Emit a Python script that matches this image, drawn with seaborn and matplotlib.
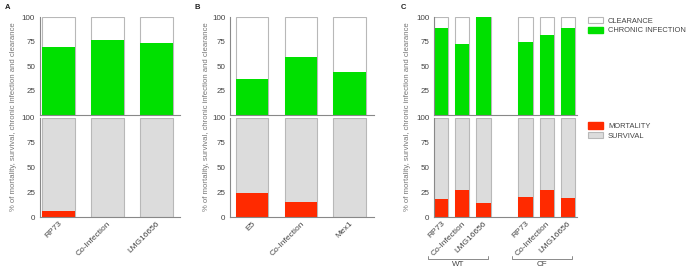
import pandas as pd
import seaborn as sns
import matplotlib.pyplot as plt
from matplotlib.patches import Patch

# panel A
strains_a = ['RP73', 'Co-Infection', 'LMG16656']
chronic_a = [69, 77, 73]
mortality_a = [6, 0, 0]

# panel B
strains_b = ['E5', 'Co-Infection', 'Mex1']
chronic_b = [37, 59, 44]
mortality_b = [24, 15, 0]

# panel C (WT and CF hosts)
strains_c = ['RP73', 'Co-Infection', 'LMG16656']
hosts_c = ['WT', 'CF']
chronic_c = {'WT': [89, 72, 100], 'CF': [75, 82, 89]}
mortality_c = {'WT': [18, 27, 14], 'CF': [20, 27, 19]}

GREEN = '#00e000'
RED = '#ff2a00'
GREY = '#dcdcdc'
EDGE = '#b8b8b8'
TXT = '#444444'


def draw_panel(ax_top, ax_bot, df, order, labels):
    full = df.assign(total=100)
    kw = dict(order=order, width=0.67, errorbar=None, saturation=1)
    sns.barplot(data=full, x='key', y='total', color='white', edgecolor=EDGE,
                linewidth=0.8, ax=ax_top, **kw)
    sns.barplot(data=df, x='key', y='chronic', color=GREEN, linewidth=0, ax=ax_top, **kw)
    sns.barplot(data=full, x='key', y='total', color=GREY, edgecolor=EDGE,
                linewidth=0.8, ax=ax_bot, **kw)
    sns.barplot(data=df, x='key', y='mortality', color=RED, linewidth=0, ax=ax_bot, **kw)
    for ax in (ax_top, ax_bot):
        ax.set_ylim(0, 100)
        ax.set_xlabel('')
        ax.set_ylabel('')
        sns.despine(ax=ax)
        for s in ('left', 'bottom'):
            ax.spines[s].set_color('#888888')
            ax.spines[s].set_linewidth(0.8)
        ax.tick_params(axis='y', length=2.5, width=0.6, color='#888888', labelsize=5.8,
                       labelcolor=TXT, pad=1)
        ax.tick_params(axis='x', length=0, pad=2)
    ax_top.set_yticks([25, 50, 75, 100])
    ax_bot.set_yticks([0, 25, 50, 75, 100])
    ax_top.set_xticklabels([])
    ax_bot.set_xticks(range(len(order)))
    ax_bot.set_xticklabels(labels, rotation=45, ha='right', rotation_mode='anchor',
                           fontsize=6.0, color=TXT)


sns.set_theme(style='white')
plt.rcParams['font.family'] = ['Liberation Sans', 'DejaVu Sans']

fig = plt.figure(figsize=(6.89, 2.70), dpi=100)
top_b, top_h = 0.574, 0.363
bot_b, bot_h = 0.196, 0.367

panels = [
    (0.058, 0.203, (-0.38, 2.48)),
    (0.334, 0.209, (-0.45, 2.5)),
    (0.630, 0.2075, (-0.35, 6.45)),
]

# A and B
for i, (strains, chronic, mortality) in enumerate([(strains_a, chronic_a, mortality_a),
                                                     (strains_b, chronic_b, mortality_b)]):
    left, width, xlim = panels[i]
    ax_t = fig.add_axes([left, top_b, width, top_h])
    ax_b = fig.add_axes([left, bot_b, width, bot_h])
    df = pd.DataFrame({'key': strains, 'chronic': chronic, 'mortality': mortality})
    draw_panel(ax_t, ax_b, df, strains, strains)
    ax_t.set_xlim(*xlim)
    ax_b.set_xlim(*xlim)

# C
rows = []
for h in hosts_c:
    for s, c, m in zip(strains_c, chronic_c[h], mortality_c[h]):
        rows.append({'key': f'{h} {s}', 'chronic': c, 'mortality': m})
df_c = pd.DataFrame(rows)
order_c = [f'WT {s}' for s in strains_c] + [' '] + [f'CF {s}' for s in strains_c]
labels_c = strains_c + [''] + strains_c
left, width, xlim = panels[2]
ax_ct = fig.add_axes([left, top_b, width, top_h])
ax_cb = fig.add_axes([left, bot_b, width, bot_h])
draw_panel(ax_ct, ax_cb, df_c, order_c, labels_c)
ax_ct.set_xlim(*xlim)
ax_cb.set_xlim(*xlim)

# group brackets under panel C
trans = ax_cb.get_xaxis_transform()
for i, h in enumerate(hosts_c):
    x0 = order_c.index(f'{h} {strains_c[0]}') - 0.65
    x1 = order_c.index(f'{h} {strains_c[-1]}') + 0.22
    ax_cb.plot([x0, x0, x1, x1], [-0.395, -0.425, -0.425, -0.395], color='#777777', lw=0.6,
               transform=trans, clip_on=False)
    ax_cb.text((x0 + x1) / 2, -0.445, h, transform=trans, ha='center', va='top',
               fontsize=5.8, color=TXT)

# y labels and panel letters
ylab = '% of mortality, survival, chronic infection and clearance'
for x in (0.019, 0.299, 0.592):
    fig.text(x, 0.567, ylab, rotation=90, ha='center', va='center', fontsize=5.6, color='#777777')
for x, letter in zip((0.007, 0.282, 0.582), ('A', 'B', 'C')):
    fig.text(x, 0.985, letter, ha='left', va='top', fontsize=5.5, fontweight='bold', color='#222222')

# legends
h_top = [Patch(facecolor='white', edgecolor=EDGE, lw=0.8, label='CLEARANCE'),
         Patch(facecolor=GREEN, edgecolor=GREEN, label='CHRONIC INFECTION')]
h_bot = [Patch(facecolor=RED, edgecolor=RED, label='MORTALITY'),
         Patch(facecolor=GREY, edgecolor=EDGE, lw=0.8, label='SURVIVAL')]
for handles, y in ((h_top, 0.937), (h_bot, 0.547)):
    leg = fig.legend(handles=handles, loc='upper left', bbox_to_anchor=(0.853, y), frameon=False,
                     fontsize=5.4, handlelength=2.0, handleheight=0.9, handletextpad=0.7,
                     labelspacing=0.25, borderaxespad=0, borderpad=0)
    for t in leg.get_texts():
        t.set_color(TXT)

fig.savefig('out.png', dpi=100)
